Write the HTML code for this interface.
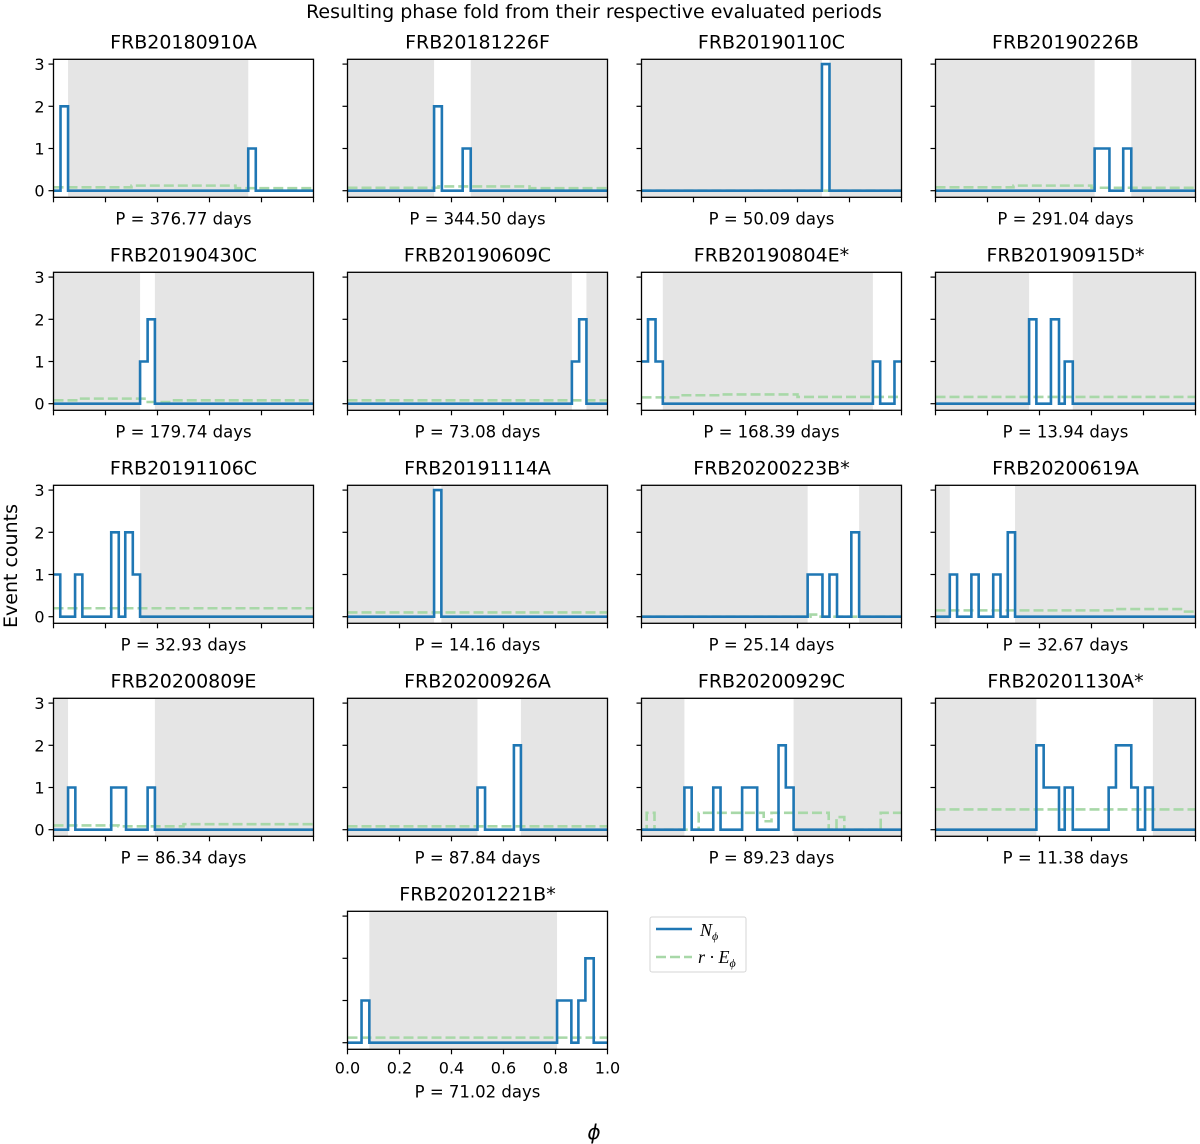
<!DOCTYPE html>
<html><head><meta charset="utf-8">
<style>
html,body{margin:0;padding:0;background:#fff;}
svg{display:block;font-family:"DejaVu Sans","Liberation Sans",sans-serif;}
</style></head>
<body>
<svg id="fig" width="1200" height="1144" viewBox="0 0 1200 1144" xmlns="http://www.w3.org/2000/svg">
<text x="594" y="18" font-size="19" text-anchor="middle">Resulting phase fold from their respective evaluated periods</text>
<text x="0" y="0" font-size="19" text-anchor="middle" transform="translate(17,566) rotate(-90)">Event counts</text>
<text x="594" y="1139" font-size="20" font-style="italic" text-anchor="middle">ϕ</text>
<g id="panels"></g>
<g>
<rect x="650" y="917" width="96" height="55" fill="#fff" stroke="#d6d6d6" rx="2"/>
<line x1="656" y1="929" x2="692" y2="929" stroke="#1f77b4" stroke-width="2.5"/>
<text x="700" y="936" font-family="Liberation Serif,serif" font-style="italic" font-size="18">N<tspan font-size="12" dy="4">ϕ</tspan></text>
<line x1="656" y1="957" x2="692" y2="957" stroke="#a8d8a8" stroke-width="2.5" stroke-dasharray="10,4"/>
<text x="698" y="963" font-family="Liberation Serif,serif" font-style="italic" font-size="18">r · E<tspan font-size="12" dy="4">ϕ</tspan></text>
</g>
</svg>
<script>
const names = ["FRB20180910A","FRB20181226F","FRB20190110C","FRB20190226B","FRB20190430C","FRB20190609C","FRB20190804E*","FRB20190915D*","FRB20191106C","FRB20191114A","FRB20200223B*","FRB20200619A","FRB20200809E","FRB20200926A","FRB20200929C","FRB20201130A*","FRB20201221B*"];
const periods = ["376.77","344.50","50.09","291.04","179.74","73.08","168.39","13.94","32.93","14.16","25.14","32.67","86.34","87.84","89.23","11.38","71.02"];
const countEdges = [
[0,0.027,0.056,0.749,0.778,1],
[0,0.333,0.363,0.443,0.474,1],
[0,0.694,0.723,1],
[0,0.612,0.669,0.722,0.753,1],
[0,0.333,0.362,0.390,1],
[0,0.863,0.891,0.919,1],
[0,0.025,0.054,0.082,0.890,0.918,0.973,1],
[0,0.360,0.388,0.444,0.475,0.497,0.528,1],
[0,0.026,0.083,0.111,0.222,0.251,0.276,0.305,0.333,1],
[0,0.333,0.361,1],
[0,0.639,0.696,0.723,0.752,0.807,0.837,1],
[0,0.055,0.083,0.138,0.166,0.222,0.250,0.278,0.306,1],
[0,0.056,0.084,0.222,0.279,0.362,0.390,1],
[0,0.5,0.529,0.640,0.667,1],
[0,0.165,0.193,0.276,0.304,0.387,0.445,0.527,0.555,0.585,1],
[0,0.388,0.416,0.475,0.497,0.528,0.666,0.694,0.753,0.778,0.806,0.836,1],
[0,0.054,0.084,0.806,0.861,0.888,0.915,0.947,1]];
const counts = [
[0,2,0,1,0],[0,2,0,1,0],[0,3,0],[0,1,0,1,0],[0,1,2,0],[0,1,2,0],[1,2,1,0,1,0,1],[0,2,0,2,0,1,0],
[1,0,1,0,2,0,2,1,0],[0,3,0],[0,1,0,1,0,2,0],[0,1,0,1,0,1,0,2,0],[0,1,0,1,0,1,0],[0,1,0,2,0],
[0,1,0,1,0,1,0,2,1,0],[0,2,1,0,1,0,1,2,1,0,1,0],[0,1,0,1,0,1,2,0]];
const expEdges = [
[0,0.3,0.7,1],[0,0.35,0.7,1],[0,1],[0,0.3,0.6,1],[0,0.1,0.35,0.45,1],[0,1],[0,0.15,0.3,0.6,1],[0,1],
[0,1],[0,1],[0,0.65,0.68,1],[0,0.7,0.95,1],[0,0.25,0.5,1],[0,1],
[0,0.02,0.05,0.22,0.47,0.5,0.72,0.75,0.78,0.92,1],[0,1],[0,1]];
const expVals = [
[0.08,0.12,0.06],[0.07,0.1,0.06],[0.0],[0.08,0.12,0.07],[0.08,0.12,0.04,0.08],[0.08],[0.15,0.2,0.22,0.16],[0.16],
[0.2],[0.1],[0.0,0.05,0.0],[0.15,0.18,0.12],[0.1,0.08,0.13],[0.08],
[0,0.4,0,0.4,0.2,0.4,0,0.3,0,0.4],[0.48],[0.12]];
const shade = [
[[0.056,0.749]],[[0,0.333],[0.474,1]],[[0,0.694],[0.723,1]],[[0,0.612],[0.753,1]],
[[0,0.333],[0.390,1]],[[0,0.863],[0.919,1]],[[0.082,0.890]],[[0,0.360],[0.528,1]],
[[0.333,1]],[[0,0.333],[0.361,1]],[[0,0.639],[0.837,1]],[[0,0.055],[0.306,1]],
[[0,0.056],[0.390,1]],[[0,0.5],[0.667,1]],[[0,0.165],[0.585,1]],[[0,0.388],[0.836,1]],
[[0.084,0.806]]];
const yTicks = [0,1,2,3];
const xTicks = [0,0.2,0.4,0.6,0.8,1.0];

const NS = "http://www.w3.org/2000/svg";
const root = document.getElementById("panels");
const colLeft = [53.5,347.5,641.5,935.5], W = 260, H = 138;
const rowTop = [59.3,272.3,485.3,698.3,911.3];
function mk(tag, attrs, parent){const e=document.createElementNS(NS,tag);for(const k in attrs)e.setAttribute(k,attrs[k]);parent.appendChild(e);return e;}

names.forEach((nm,i)=>{
  const col = i<16 ? i%4 : 1, row = Math.floor(i/4);
  const x0 = colLeft[col], y0 = rowTop[row];
  const sx = p => x0 + p*W;
  const sy = v => y0 + 131.4 - v*42.2;
  const g = mk("g",{},root);
  
  
  shade[i].forEach(r=>{
    const s = mk("rect",{x:sx(r[0]),y:y0,width:sx(r[1])-sx(r[0]),height:H,fill:"#e5e5e5"},g);
    
    
  });
  let d="", ee=expEdges[i], ev=expVals[i];
  for(let k=0;k<ev.length;k++){ d += (k===0?"M":"L")+sx(ee[k])+","+sy(ev[k])+" L"+sx(ee[k+1])+","+sy(ev[k]); }
  const gl = mk("path",{d:d,fill:"none",stroke:"#a8d8a8","stroke-width":2.6,"stroke-dasharray":"10,4"},g);
  
  
  d=""; const ce=countEdges[i], cv=counts[i];
  for(let k=0;k<cv.length;k++){ d += (k===0?"M":"L")+sx(ce[k])+","+sy(cv[k])+" L"+sx(ce[k+1])+","+sy(cv[k]); }
  const bl = mk("path",{d:d,fill:"none",stroke:"#1f77b4","stroke-width":2.6,"stroke-linejoin":"miter"},g);
  
  
  const fr = mk("rect",{x:x0,y:y0,width:W,height:H,fill:"none",stroke:"#000","stroke-width":1.3},g);
  
  
  yTicks.forEach(t=>{
    mk("line",{x1:x0-5,x2:x0,y1:sy(t),y2:sy(t),stroke:"#000","stroke-width":1.2},g);
    if(col===0 && i<16){
      const tl = mk("text",{x:x0-9,y:sy(t)+6,"font-size":16,"text-anchor":"end"},g);
      tl.textContent=t;
      
      
    }
  });
  xTicks.forEach(t=>{
    mk("line",{x1:sx(t),x2:sx(t),y1:y0+H,y2:y0+H+5,stroke:"#000","stroke-width":1.2},g);
    if(i===16){
      const tl = mk("text",{x:sx(t),y:y0+H+24,"font-size":16,"text-anchor":"middle"},g);
      tl.textContent=t.toFixed(1);
      
      
    }
  });
  const tt = mk("text",{x:x0+W/2,y:y0-11,"font-size":19,"text-anchor":"middle"},g);
  tt.textContent = nm;
  
  
  const pl = mk("text",{x:x0+W/2,y:y0+H+(i===16?48:27),"font-size":16.5,"text-anchor":"middle"},g);
  pl.textContent = "P = "+periods[i]+" days";
  
  
});
</script>
</body></html>
